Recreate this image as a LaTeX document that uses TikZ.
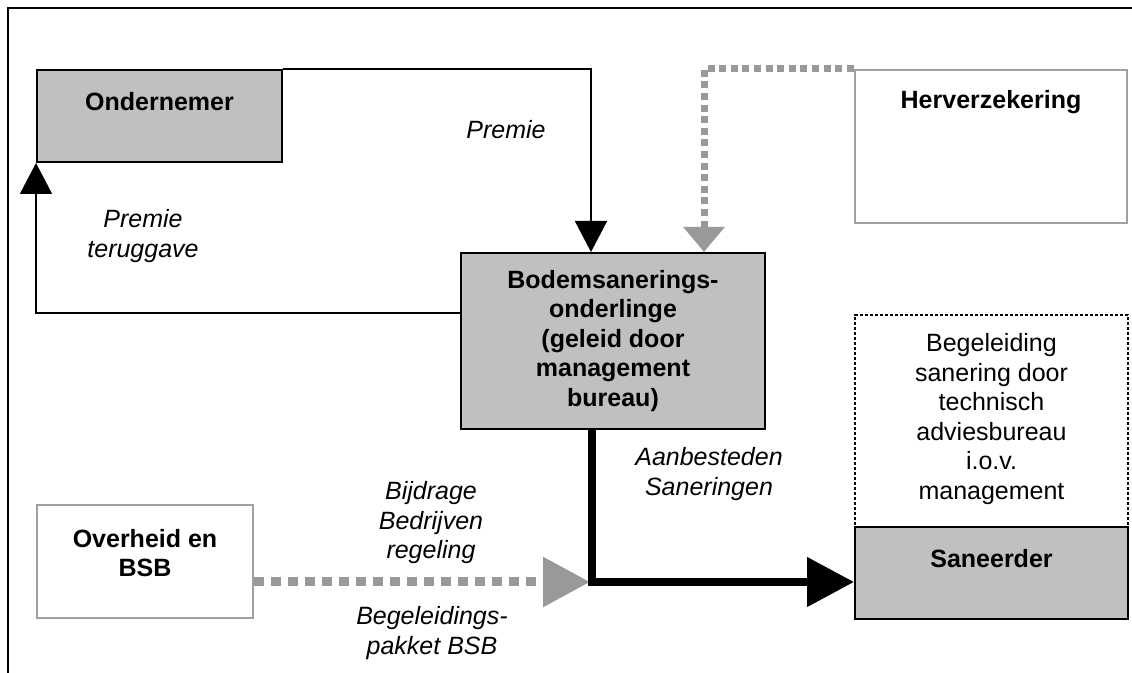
\documentclass[tikz,border=0pt]{standalone}
\usepackage{fontspec}
\setmainfont{Liberation Sans}
\usetikzlibrary{arrows.meta,positioning,calc}
\definecolor{BoxGray}{HTML}{C0C0C0}
\definecolor{EdgeGray}{HTML}{A0A0A0}
\definecolor{FlowGray}{HTML}{999999}

\begin{document}
\begin{tikzpicture}[
    x=0.5pt, y=-0.5pt,
    font=\fontsize{12.5}{14.75}\selectfont,
    greybox/.style={draw=black, fill=BoxGray, line width=1pt, inner sep=0pt},
    whitebox/.style={draw=EdgeGray, fill=white, line width=1.3pt, inner sep=0pt},
    dotbox/.style={draw=black, fill=white, line width=1.4pt, dash pattern=on 1.6pt off 0.9pt, inner sep=0pt},
    boxtext/.style={font=\fontsize{12.5}{14.75}\selectfont\bfseries, align=center, inner sep=0pt},
    flowlabel/.style={font=\fontsize{12.5}{14.75}\selectfont\itshape, align=center, inner sep=0pt},
    arrow/.style={-{Triangle[length=15.5pt, width=16pt]}, line width=0.9pt},
    bigarrow/.style={-{Triangle[length=23.5pt, width=24pt]}, line width=4pt},
    greyflow/.style={draw=FlowGray, line width=3.5pt, dash pattern=on 3.5pt off 2.3pt},
    greyflowwide/.style={draw=FlowGray, line width=4.5pt, dash pattern=on 5pt off 3.5pt}
]
  \useasboundingbox (0,0) rectangle (1132,673);

  % kader
  \draw[line width=0.8pt] (8,673) -- (8,8) -- (1132,8);

  % -------------------------------------------------------------
  % BOVEN: ONDERNEMER / HERVERZEKERING
  % -------------------------------------------------------------
  \node[greybox, minimum width=122.5pt, minimum height=46pt] (ondernemer) at (159.5,116) {};
  \node[boxtext] (ondernemer_txt) at ([yshift=-16.5pt]ondernemer.north) {Ondernemer};

  \node[whitebox, minimum width=136pt, minimum height=76.5pt] (herverz) at (991,146.5) {};
  \node[boxtext] (herverz_txt) at ([yshift=-16.5pt]herverz.north) {Herverzekering};

  % -------------------------------------------------------------
  % MIDDEN: ONDERLINGE
  % -------------------------------------------------------------
  \node[greybox, minimum width=152pt, minimum height=88pt] (bodem) at (613,341) {};
  \node[boxtext] (bodem_txt) at (bodem.center) {Bodemsanerings-\\onderlinge\\(geleid door\\management\\bureau)};

  % -------------------------------------------------------------
  % ONDER: OVERHEID / SANEERDER
  % -------------------------------------------------------------
  \node[whitebox, minimum width=108pt, minimum height=56.5pt] (overheid) at (145,561.5) {};
  \node[boxtext] (overheid_txt) at ([yshift=4.25pt]overheid.center) {Overheid en\\BSB};

  \node[dotbox, minimum width=136.5pt, minimum height=106pt] (begeleiding) at (991.5,421) {};
  \node[align=center, inner sep=0pt] (begeleiding_txt) at ([yshift=1pt]begeleiding.center) {Begeleiding\\sanering door\\technisch\\adviesbureau\\i.o.v.\\management};

  \node[greybox, minimum width=136.5pt, minimum height=46pt] (saneerder) at (991.5,573) {};
  \node[boxtext] (saneerder_txt) at ([yshift=-16.5pt]saneerder.north) {Saneerder};

  % -------------------------------------------------------------
  % STROMEN
  % -------------------------------------------------------------
  \coordinate (hoek) at (592,582);

  \draw[arrow] (ondernemer.north east) -| ([xshift=-11pt]bodem.north);
  \draw[arrow] ([yshift=14pt]bodem.west) -| (ondernemer.south west);
  \draw[greyflow, -{Triangle[length=12.5pt, width=20pt]}] (herverz.north west) -| ([xshift=45.5pt]bodem.north);

  \draw[greyflowwide, -{Triangle[length=23.5pt, width=24pt]}] (overheid.east |- hoek) -- ([xshift=-1pt]hoek);
  \draw[bigarrow] (bodem.south -| hoek) -- (hoek) -- (saneerder.west |- hoek);

  % labels
  \node[flowlabel] (premie_lbl) at (506,130) {Premie};
  \node[flowlabel] (teruggave_lbl) at (143,236) {Premie\\teruggave};
  \node[flowlabel] (aanbest_lbl) at (709,474) {Aanbesteden\\Saneringen};
  \node[flowlabel] (bijdrage_lbl) at (431,523) {Bijdrage\\Bedrijven\\regeling};
  \node[flowlabel] (pakket_lbl) at (432,633) {Begeleidings-\\pakket BSB};

\end{tikzpicture}
\end{document}
